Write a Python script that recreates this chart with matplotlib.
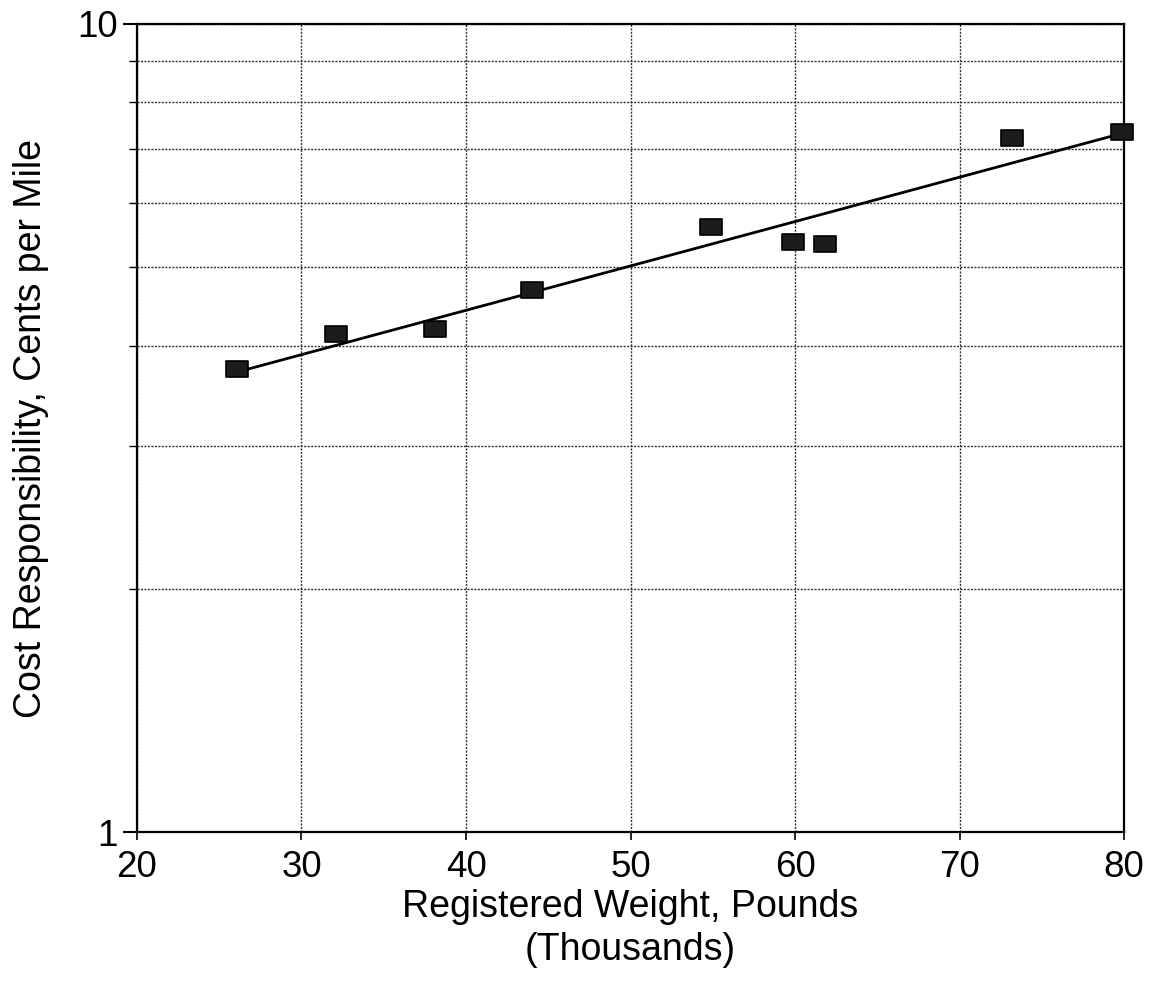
import numpy as np
import matplotlib
matplotlib.use("Agg")
import matplotlib.pyplot as plt
from matplotlib.path import Path

plt.rcParams['font.family'] = ['Liberation Sans', 'DejaVu Sans']

# Registered weight (thousand lb) and cost responsibility (cents per mile)
weight = [26.1, 32.1, 38.1, 44.0, 54.9, 59.9, 61.8, 73.2, 79.9]
cost = [3.74, 4.13, 4.19, 4.69, 5.61, 5.38, 5.34, 7.22, 7.36]

x_ticks = [20, 30, 40, 50, 60, 70, 80]
y_ticks = [1, 10]

# Exponential trend line: least squares fit of log10(cost) on weight
slope, intercept = np.polyfit(weight, np.log10(cost), 1)
trend_x = np.array([26.0, 80.0])
trend_y = 10 ** (intercept + slope * trend_x)

fig = plt.figure(figsize=(11.53, 9.82), dpi=100)
ax = fig.add_axes([0.1188, 0.1527, 0.9749 - 0.1188, 0.9756 - 0.1527])

ax.set_yscale('log')
ax.set_xlim(20, 80)
ax.set_ylim(1, 10)

# Wide rectangular marker
rect = Path([(-1.4, -1), (1.4, -1), (1.4, 1), (-1.4, 1), (-1.4, -1)],
            [Path.MOVETO, Path.LINETO, Path.LINETO, Path.LINETO, Path.CLOSEPOLY])

ax.plot(trend_x, trend_y, color='black', lw=2.0, zorder=3)
ax.plot(weight, cost, linestyle='none', marker=rect, markersize=16.5,
        markerfacecolor='#1c1c1c', markeredgecolor='black', markeredgewidth=1.2,
        zorder=4, clip_on=False)

ax.set_xticks(x_ticks)
ax.set_xticklabels([str(t) for t in x_ticks])
ax.set_yticks(y_ticks)
ax.set_yticklabels([str(t) for t in y_ticks])
ax.yaxis.set_minor_locator(matplotlib.ticker.LogLocator(base=10, subs=np.arange(2, 10)))
ax.yaxis.set_minor_formatter(matplotlib.ticker.NullFormatter())

ax.grid(True, which='both', axis='y', color='#333333', lw=1.0, linestyle=(0, (1.5, 1)))
ax.grid(True, which='major', axis='x', color='#333333', lw=1.0, linestyle=(0, (1.5, 1)))

ax.tick_params(axis='y', which='major', direction='out', length=10, width=1.5,
               labelsize=26.5, pad=4)
ax.tick_params(axis='y', which='minor', direction='out', length=6, width=1.0)
ax.tick_params(axis='x', which='major', direction='out', length=6, width=1.2,
               labelsize=26.5, pad=7)

for s in ax.spines.values():
    s.set_linewidth(1.6)
    s.set_color('black')

ax.set_xlabel('Registered Weight, Pounds\n(Thousands)', fontsize=27,
              linespacing=1.25, labelpad=3)
ax.set_ylabel('Cost Responsibility, Cents per Mile', fontsize=27, labelpad=20)

fig.savefig('out.png', dpi=100, facecolor='white')
